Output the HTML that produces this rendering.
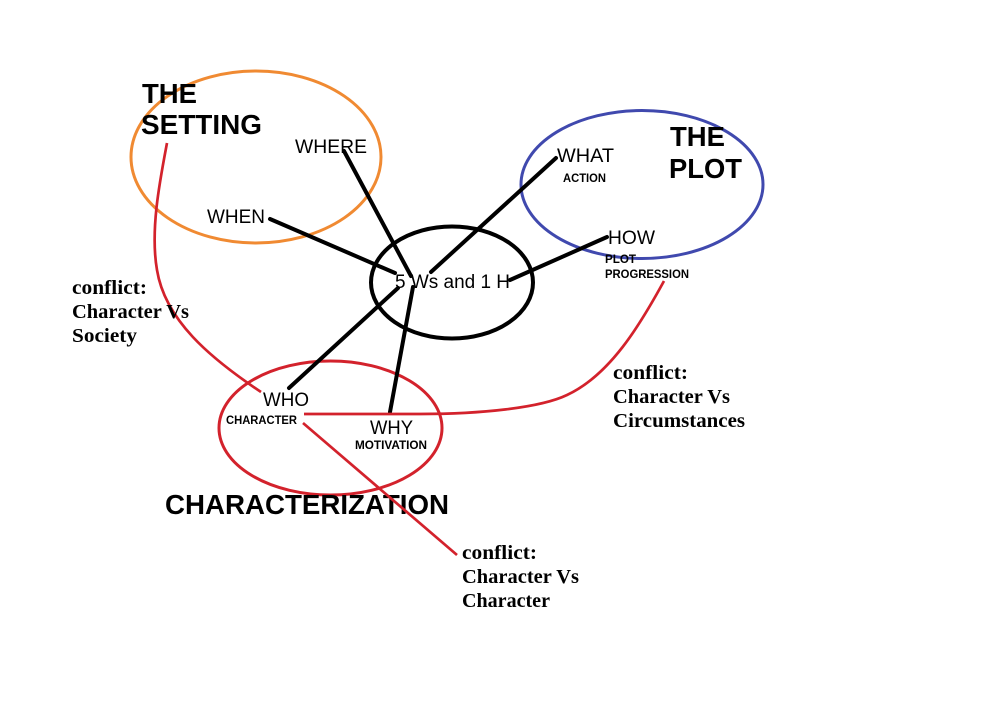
<!DOCTYPE html>
<html><head><meta charset="utf-8">
<style>
html,body{margin:0;padding:0;background:#fff}
svg{display:block}
.s{font-family:"Liberation Sans",sans-serif;fill:#000}
.r{font-size:19px}
.t{font-size:27.5px;font-weight:bold}
.m{font-size:12px;font-weight:bold}
.f{font-family:"Liberation Serif",serif;font-weight:bold;font-size:20.5px;fill:#000}
</style></head>
<body>
<svg width="986" height="704" viewBox="0 0 986 704" xmlns="http://www.w3.org/2000/svg">
<rect width="986" height="704" fill="#fff"/>
<g fill="none">
<ellipse cx="256" cy="157" rx="125" ry="86" stroke="#f08a32" stroke-width="3"/>
<ellipse cx="642" cy="184.500" rx="121" ry="74" stroke="#4049ae" stroke-width="3"/>
<ellipse cx="330.500" cy="428" rx="111.500" ry="67" stroke="#d3222c" stroke-width="3"/>
<ellipse cx="452" cy="282.500" rx="81" ry="56" stroke="#000" stroke-width="4"/>
<g stroke="#000" stroke-width="4" stroke-linecap="round">
<line x1="344" y1="151" x2="411" y2="276"/>
<line x1="270" y1="219" x2="395" y2="273"/>
<line x1="556" y1="158" x2="431" y2="272"/>
<line x1="607" y1="237" x2="510" y2="280"/>
<line x1="398" y1="288" x2="289" y2="388"/>
<line x1="413" y1="287" x2="390" y2="412"/>
</g>
<g stroke="#d3222c" stroke-width="2.700">
<path d="M167 143C160 180 150 230 157 270C165 320 210 358 261 392"/>
<path d="M664 281C640 325 610 375 567 395C540 408 480 414 420 414L304 414"/>
</g>
</g>
<g transform="translate(0,0.800)">
<text class="s t" x="142" y="102" textLength="55" lengthAdjust="spacingAndGlyphs">THE</text>
<text class="s t" x="141" y="133" textLength="121" lengthAdjust="spacingAndGlyphs">SETTING</text>
<text class="s r" x="295" y="152" textLength="72" lengthAdjust="spacingAndGlyphs">WHERE</text>
<text class="s r" x="207" y="222" textLength="58" lengthAdjust="spacingAndGlyphs">WHEN</text>
<text class="s r" x="557" y="161" textLength="57" lengthAdjust="spacingAndGlyphs">WHAT</text>
<text class="s m" x="563" y="181" textLength="43" lengthAdjust="spacingAndGlyphs">ACTION</text>
<text class="s t" x="670" y="145" textLength="55" lengthAdjust="spacingAndGlyphs">THE</text>
<text class="s t" x="669" y="177" textLength="73" lengthAdjust="spacingAndGlyphs">PLOT</text>
<text class="s r" x="608" y="243" textLength="47" lengthAdjust="spacingAndGlyphs">HOW</text>
<text class="s m" x="605" y="262" textLength="31" lengthAdjust="spacingAndGlyphs">PLOT</text>
<text class="s m" x="605" y="277" textLength="84" lengthAdjust="spacingAndGlyphs">PROGRESSION</text>
<text class="s r" x="395" y="287" textLength="115" lengthAdjust="spacingAndGlyphs">5 Ws and 1 H</text>
<text class="s r" x="263" y="405" textLength="46" lengthAdjust="spacingAndGlyphs">WHO</text>
<text class="s m" x="226" y="423" textLength="71" lengthAdjust="spacingAndGlyphs">CHARACTER</text>
<text class="s r" x="370" y="433" textLength="43" lengthAdjust="spacingAndGlyphs">WHY</text>
<text class="s m" x="355" y="448" textLength="72" lengthAdjust="spacingAndGlyphs">MOTIVATION</text>
<text class="s t" x="165" y="513" textLength="284" lengthAdjust="spacingAndGlyphs">CHARACTERIZATION</text>
<text class="f" x="72" y="293" textLength="75" lengthAdjust="spacingAndGlyphs">conflict:</text>
<text class="f" x="72" y="317" textLength="117" lengthAdjust="spacingAndGlyphs">Character Vs</text>
<text class="f" x="72" y="341" textLength="65" lengthAdjust="spacingAndGlyphs">Society</text>
<text class="f" x="613" y="378" textLength="75" lengthAdjust="spacingAndGlyphs">conflict:</text>
<text class="f" x="613" y="402" textLength="117" lengthAdjust="spacingAndGlyphs">Character Vs</text>
<text class="f" x="613" y="426" textLength="132" lengthAdjust="spacingAndGlyphs">Circumstances</text>
<text class="f" x="462" y="558" textLength="75" lengthAdjust="spacingAndGlyphs">conflict:</text>
<text class="f" x="462" y="582" textLength="117" lengthAdjust="spacingAndGlyphs">Character Vs</text>
<text class="f" x="462" y="606" textLength="88" lengthAdjust="spacingAndGlyphs">Character</text>
</g>
<line x1="303" y1="423" x2="457" y2="555" stroke="#d3222c" stroke-width="2.700"/>
</svg>
</body></html>
